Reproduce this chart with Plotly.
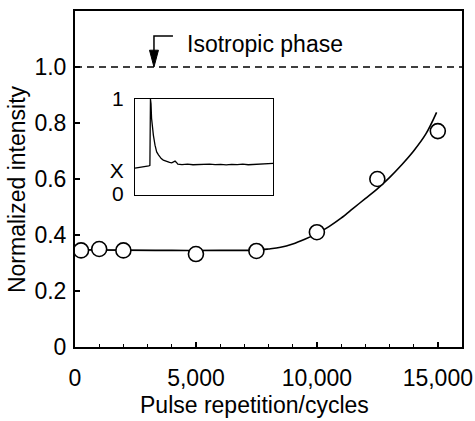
import plotly.graph_objects as go

# ---- data ----
pulse_x = [250, 1000, 2000, 5000, 7500, 10000, 12500, 15000]
intensity_y = [0.345, 0.35, 0.345, 0.332, 0.343, 0.41, 0.60, 0.771]

fit_x = [250, 2000, 4000, 6000, 7500, 8000, 8500, 9000, 9500, 10000, 10500, 11000,
         11500, 12000, 12500, 13000, 13500, 14000, 14500, 14950]
fit_y = [0.347, 0.346, 0.345, 0.345, 0.346, 0.35, 0.356, 0.368, 0.385, 0.405, 0.43, 0.46,
         0.495, 0.53, 0.565, 0.605, 0.65, 0.70, 0.76, 0.838]

inset_t = [0, 2, 5, 8, 10, 10.8, 11.2, 11.6, 12, 12.5, 13.3, 14.5, 15.7, 17, 18, 19, 20.5,
           22, 23, 25, 26.6, 28, 29, 30, 31, 34, 38, 42, 46, 50, 54, 58, 62, 66, 70, 74,
           78, 82, 86, 90, 94, 98, 100]
inset_v = [0.28, 0.285, 0.29, 0.295, 0.305, 0.31, 1.0, 0.95, 0.80, 0.70, 0.625, 0.52, 0.45,
           0.42, 0.40, 0.38, 0.365, 0.355, 0.347, 0.34, 0.336, 0.345, 0.354, 0.34, 0.322,
           0.318, 0.322, 0.316, 0.32, 0.318, 0.323, 0.317, 0.32, 0.315, 0.321, 0.318,
           0.322, 0.316, 0.32, 0.317, 0.322, 0.325, 0.33]

y_tickvals = [0, 0.2, 0.4, 0.6, 0.8, 1.0]
y_ticktext = ["0", "0.2", "0.4", "0.6", "0.8", "1.0"]
x_tickvals = [0, 5000, 10000, 15000]
x_ticktext = ["0", "5,000", "10,000", "15,000"]
inset_tickvals = [0.02, 0.25, 1.0]
inset_ticktext = ["0", "X", "1"]
isotropic_level = 1.0

FONT = "Liberation Sans, Arial, Helvetica, sans-serif"
FS = 23

fig = go.Figure()

fig.add_trace(go.Scatter(x=fit_x, y=fit_y, mode="lines", line=dict(color="black", width=1.6, shape="spline"),
                         showlegend=False, hoverinfo="skip"))
fig.add_trace(go.Scatter(x=pulse_x, y=intensity_y, mode="markers",
                         marker=dict(size=15, color="white", line=dict(color="black", width=1.6)),
                         showlegend=False))
fig.add_trace(go.Scatter(x=inset_t, y=inset_v, mode="lines", line=dict(color="black", width=1.3),
                         xaxis="x2", yaxis="y2", showlegend=False))

# dashed isotropic line
fig.add_shape(type="line", xref="paper", x0=0, x1=1, yref="y", y0=isotropic_level, y1=isotropic_level,
              line=dict(color="black", width=1.5, dash="7px,5px"))
# bent arrow
fig.add_shape(type="path", xref="x", yref="y",
              path="M 4050,1.111 L 3265,1.111 L 3265,1.05",
              line=dict(color="black", width=1.5))
fig.add_shape(type="path", xref="x", yref="y",
              path="M 3080,1.06 L 3450,1.06 L 3265,1.0 Z",
              fillcolor="black", line=dict(color="black", width=1))

fig.add_annotation(x=4550, y=1.083, xref="x", yref="y", text="Isotropic phase", showarrow=False,
                   xanchor="left", yanchor="middle", font=dict(family=FONT, size=FS, color="black"))

# axis titles
fig.add_annotation(x=0.465, y=-0.173, xref="paper", yref="paper", text="Pulse repetition/cycles",
                   showarrow=False, xanchor="center", yanchor="middle",
                   font=dict(family=FONT, size=FS, color="black"))
fig.add_annotation(x=-0.150, y=0.470, xref="paper", yref="paper", text="Normalized intensity",
                   showarrow=False, xanchor="center", yanchor="middle", textangle=-90,
                   font=dict(family=FONT, size=FS, color="black"))

fig.update_layout(
    width=475, height=421,
    margin=dict(l=75, r=13, t=11, b=74, autoexpand=False),
    paper_bgcolor="white", plot_bgcolor="white",
    font=dict(family=FONT, size=FS, color="black"),
    xaxis=dict(range=[0, 16000], tickvals=x_tickvals, ticktext=x_ticktext,
               ticks="inside", ticklen=5, tickwidth=1.5, tickcolor="black",
               minor=dict(dtick=1000, ticks="inside", ticklen=3, tickwidth=1.2, tickcolor="black"),
               showline=True, linecolor="black", linewidth=2, mirror=True, automargin=False,
               showgrid=False, zeroline=False, ticklabelstandoff=9),
    yaxis=dict(range=[0, 1.2], tickvals=y_tickvals, ticktext=y_ticktext,
               ticks="inside", ticklen=5, tickwidth=1.5, tickcolor="black",
               showline=True, linecolor="black", linewidth=2, mirror=True, automargin=False,
               showgrid=False, zeroline=False, ticklabelstandoff=2),
    xaxis2=dict(domain=[0.155, 0.512], anchor="y2", range=[0, 100], showticklabels=False,
                ticks="", showline=True, linecolor="black", linewidth=1.2, mirror=True,
                showgrid=False, zeroline=False, automargin=False),
    yaxis2=dict(domain=[0.452, 0.738], anchor="x2", range=[0, 1], tickvals=inset_tickvals,
                ticktext=inset_ticktext, ticks="", showline=True, linecolor="black",
                linewidth=1.2, mirror=True, showgrid=False, zeroline=False, automargin=False,
                ticklabelstandoff=6, tickfont=dict(size=21)),
)

fig.write_html("out.html")
